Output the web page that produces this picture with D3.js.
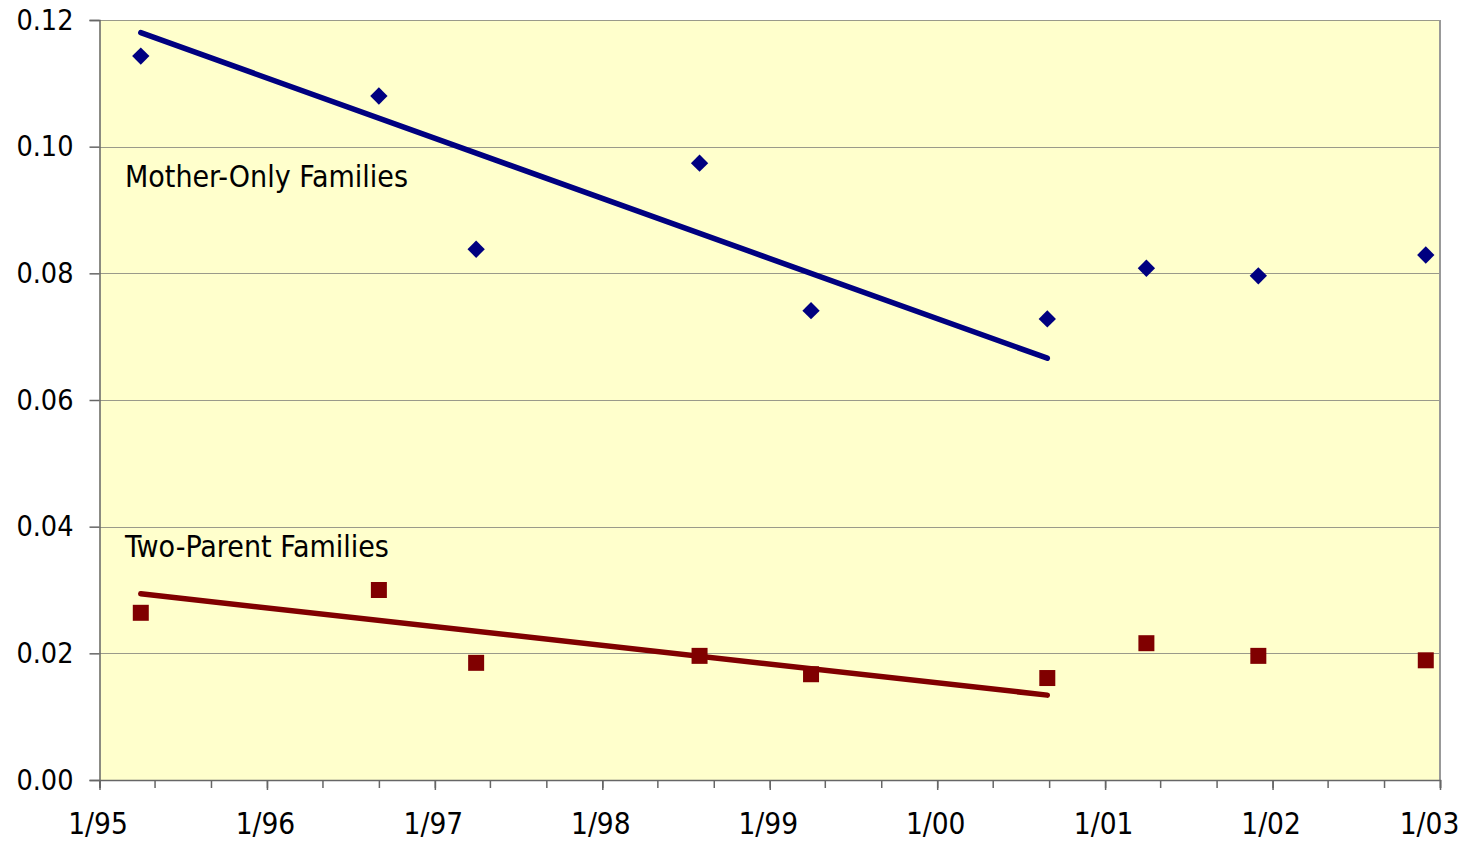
<!DOCTYPE html>
<html><head><meta charset="utf-8">
<script src="https://cdn.jsdelivr.net/npm/d3@7"></script>
<style>
html,body{margin:0;padding:0;background:#fff;}
svg{display:block;}
text{font-family:"DejaVu Sans Condensed","DejaVu Sans",sans-serif;font-stretch:condensed;fill:#000;}
</style></head>
<body>
<svg id="chart" width="1466" height="843"></svg>
<script>
const dates = ["1995-04-01","1996-09-01","1997-04-01","1998-08-01","1999-04-01","2000-08-28","2001-04-01","2001-12-01","2002-12-01"];
const motherOnly = [0.1143,0.1080,0.0838,0.0974,0.0741,0.0728,0.0808,0.0796,0.0829];
const twoParent  = [0.0264,0.0300,0.0185,0.0196,0.0167,0.0161,0.0216,0.0196,0.0189];
const trendDates = ["1995-04-01","2000-08-28"];
const motherTrend = [0.1180,0.0666];
const twoTrend = [0.0294,0.0134];
const yTicks = [0,0.02,0.04,0.06,0.08,0.10,0.12];
const xTickLabels = ["1/95","1/96","1/97","1/98","1/99","1/00","1/01","1/02","1/03"];
const seriesLabels = ["Mother-Only Families","Two-Parent Families"];

const parse = d3.timeParse("%Y-%m-%d");
const m = {left:99.5, right:1440, top:20, bottom:780};
const svg = d3.select("#chart");
const FONT = '"DejaVu Sans Condensed","DejaVu Sans",sans-serif';

const x = d3.scaleTime().domain([new Date(1995,0,1), new Date(2003,0,1)]).range([m.left, m.right]);
const y = d3.scaleLinear().domain([0,0.12]).range([m.bottom, m.top]);

// plot background
svg.append("rect").attr("x",m.left).attr("y",m.top).attr("width",m.right-m.left).attr("height",m.bottom-m.top).attr("fill","#FFFFCC");

// gridlines
svg.append("g").selectAll("line").data(yTicks.filter(d=>d>0)).join("line")
  .attr("x1",m.left).attr("x2",m.right).attr("y1",d=>Math.round(y(d))+0.5).attr("y2",d=>Math.round(y(d))+0.5)
  .attr("stroke","#9a9a8a").attr("stroke-width",1.2);

// right border
svg.append("line").attr("x1",m.right).attr("x2",m.right).attr("y1",m.top).attr("y2",m.bottom).attr("stroke","#999").attr("stroke-width",2);

// y axis
const yAxis = d3.axisLeft(y).tickValues(yTicks).tickFormat(d3.format(".2f")).tickSize(10).tickPadding(16);
const gy = svg.append("g").attr("transform",`translate(${m.left},0)`).call(yAxis);
gy.select(".domain").attr("stroke","#666").attr("stroke-width",1.5);
gy.selectAll(".tick line").attr("stroke","#666").attr("stroke-width",1.5);
gy.selectAll("text").attr("font-size",28.5).style("font-family",FONT);

// x axis: minor ticks every 4 months, major at years
const minorTicks = d3.timeMonth.every(4).range(new Date(1995,0,1), new Date(2003,0,2));
const xMinor = d3.axisBottom(x).tickValues(minorTicks).tickFormat("").tickSize(8);
const gxm = svg.append("g").attr("transform",`translate(0,${m.bottom})`).call(xMinor);
gxm.select(".domain").attr("stroke","#666").attr("stroke-width",1.5);
gxm.selectAll(".tick line").attr("stroke","#666").attr("stroke-width",1.5);

const yearTicks = d3.timeYear.range(new Date(1995,0,1), new Date(2003,0,2));
const xMajor = d3.axisBottom(x).tickValues(yearTicks).tickFormat((d,i)=>xTickLabels[i]).tickSize(10).tickPadding(23);
const gx = svg.append("g").attr("transform",`translate(0,${m.bottom})`).call(xMajor);
gx.select(".domain").remove();
gx.selectAll(".tick line").attr("stroke","#666").attr("stroke-width",1.5);
gx.selectAll("text").attr("font-size",29.5).style("font-family",FONT)
  .attr("dx",(d,i)=> i===xTickLabels.length-1 ? -11 : -2);

// trend lines
const line = d3.line().x(d=>x(d[0])).y(d=>y(d[1]));
const trendPts = (vals)=>trendDates.map((d,i)=>[parse(d),vals[i]]);
svg.append("path").attr("d",line(trendPts(motherTrend))).attr("fill","none").attr("stroke","#000080").attr("stroke-width",5.5).attr("stroke-linecap","round");
svg.append("path").attr("d",line(trendPts(twoTrend))).attr("fill","none").attr("stroke","#800000").attr("stroke-width",5.5).attr("stroke-linecap","round");

// markers
const dia = d3.symbol().type(d3.symbolSquare).size(150);
svg.append("g").selectAll("path").data(dates.map((d,i)=>[parse(d),motherOnly[i]])).join("path")
  .attr("d",dia()).attr("transform",d=>`translate(${x(d[0])},${y(d[1])}) rotate(45)`).attr("fill","#000080");
const sq = d3.symbol().type(d3.symbolSquare).size(256);
svg.append("g").selectAll("path").data(dates.map((d,i)=>[parse(d),twoParent[i]])).join("path")
  .attr("d",sq()).attr("transform",d=>`translate(${x(d[0])},${y(d[1])})`).attr("fill","#800000");

// series labels
svg.append("text").attr("x",m.left+25.5).attr("y",187).attr("font-size",30).style("font-family",FONT).text(seriesLabels[0]);
svg.append("text").attr("x",m.left+25.5).attr("y",557).attr("font-size",30).style("font-family",FONT).text(seriesLabels[1]);
</script>
</body></html>
